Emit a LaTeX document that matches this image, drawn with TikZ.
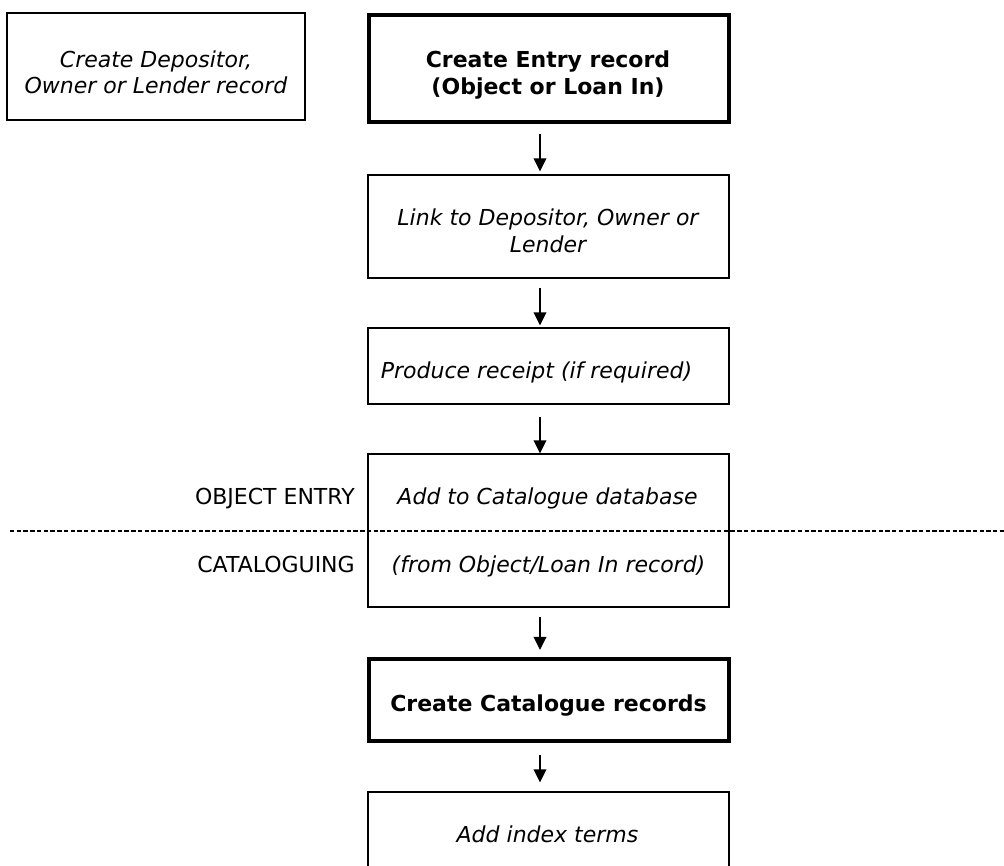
\documentclass[tikz,border=0pt]{standalone}
\usepackage{fontspec}
\setmainfont{DejaVu Sans}
\usetikzlibrary{arrows.meta}
\begin{document}
\begin{tikzpicture}[x=0.75pt,y=-0.75pt,
  thinbox/.style={draw, line width=1pt, inner sep=0pt, minimum width=270.75pt},
  thickbox/.style={draw, line width=3.2pt, inner sep=0pt, minimum width=270pt},
  itxt/.style={inner sep=0pt, anchor=base, font=\fontsize{16.5}{20}\selectfont\itshape},
  btxt/.style={inner sep=0pt, anchor=base, font=\fontsize{16.5}{20}\selectfont\bfseries},
  ltxt/.style={inner sep=0pt, anchor=base east, font=\fontsize{16.5}{20}\selectfont},
  arr/.style={line width=1.3pt, -{Triangle[length=9.75pt, width=9.5pt]}},
  divider/.style={line width=1.5pt, dash pattern=on 3.3pt off 1.75pt}
]
\useasboundingbox (0,0) rectangle (1004,865);
\clip (0,0) rectangle (1004,865);

% boxes
\node[thinbox, minimum width=223.5pt, minimum height=80.25pt] (dep) at (156,66.5) {};
\node[thickbox, minimum height=80.25pt] (entry) at (549,68.5) {};
\node[thinbox, minimum height=77.25pt] (link) at (548.5,226.5) {};
\node[thinbox, minimum height=57pt] (receipt) at (548.5,366) {};
\node[thinbox, minimum height=114.75pt] (catadd) at (548.5,530.5) {};
\node[thickbox, minimum height=61.5pt] (catrec) at (549,700) {};
\node[thinbox, minimum height=81pt] (index) at (548.5,846) {};

% texts
\node[itxt] (dep1) at (156,67) {Create Depositor,};
\node[itxt] (dep2) at (156,93.5) {Owner or Lender record};
\node[btxt] (entry1) at (548,67) {Create Entry record};
\node[btxt] (entry2) at (548,94) {(Object or Loan In)};
\node[itxt] (link1) at (548,225) {Link to Depositor, Owner or};
\node[itxt] (link2) at (548,252) {Lender};
\node[itxt] (receipt1) at (536.5,378) {Produce receipt (if required)};
\node[itxt] (catadd1) at (547.5,504) {Add to Catalogue database};
\node[itxt] (catadd2) at (548.5,572) {(from Object/Loan In record)};
\node[btxt] (catrec1) at (548.5,711) {Create Catalogue records};
\node[itxt] (index1) at (547.5,842) {Add index terms};
\node[ltxt] (objentry) at (355,504) {OBJECT ENTRY};
\node[ltxt] (catal) at (355,572) {CATALOGUING};

% divider
\coordinate (dl) at (10,530.5);
\coordinate (dr) at (1004,530.5);
\draw[divider] (dl) -- (dr);

% arrows
\coordinate (ax) at (540,0);
\draw[arr, shorten <=7.5pt, shorten >=2.25pt] (entry.south -| ax) -- (link.north -| ax);
\draw[arr, shorten <=6.75pt, shorten >=1.5pt] (link.south -| ax) -- (receipt.north -| ax);
\draw[arr, shorten <=9pt, shorten >=0pt] (receipt.south -| ax) -- (catadd.north -| ax);
\draw[arr, shorten <=6.75pt, shorten >=5.25pt] (catadd.south -| ax) -- (catrec.north -| ax);
\draw[arr, shorten <=9pt, shorten >=6.75pt] (catrec.south -| ax) -- (index.north -| ax);
\end{tikzpicture}
\end{document}
